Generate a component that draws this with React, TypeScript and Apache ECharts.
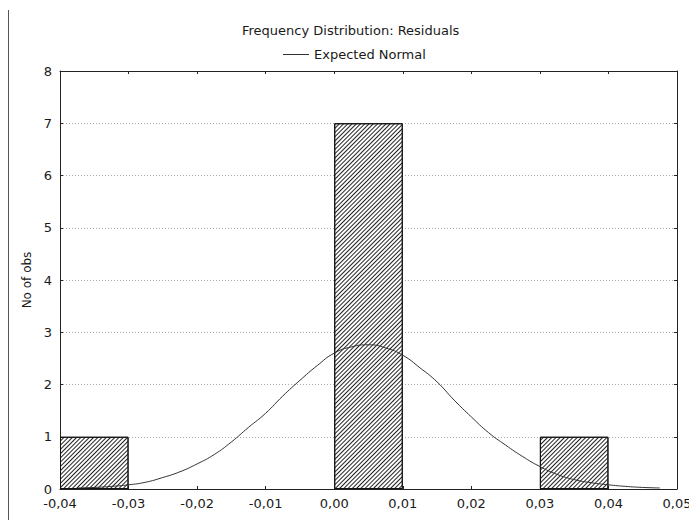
import React, { useEffect, useRef } from "react";
import * as echarts from "echarts";

// Histogram bins (bin centres) and counts
const binCenters = [-0.035, 0.005, 0.035];
const binCounts = [1, 7, 1];

// Expected normal curve
const curveX = [
  -0.0375, -0.035, -0.0325, -0.03, -0.0275, -0.025, -0.0225, -0.02, -0.0175, -0.015,
  -0.0125, -0.01, -0.0075, -0.005, -0.0025, 0, 0.0025, 0.005, 0.0075, 0.01,
  0.0125, 0.015, 0.0175, 0.02, 0.0225, 0.025, 0.0275, 0.03, 0.0325, 0.035,
  0.0375, 0.04, 0.0425, 0.045, 0.0475,
];
const curveY = [
  0.02, 0.03, 0.05, 0.08, 0.13, 0.22, 0.33, 0.48, 0.66, 0.9,
  1.18, 1.45, 1.78, 2.08, 2.36, 2.6, 2.72, 2.76, 2.7, 2.56,
  2.32, 2.05, 1.7, 1.38, 1.08, 0.84, 0.62, 0.43, 0.28, 0.18,
  0.12, 0.08, 0.05, 0.03, 0.02,
];

const xMin = -0.04;
const xMax = 0.05;
const xStep = 0.01;
const yMin = 0;
const yMax = 8;
const yStep = 1;

const W = 689;
const H = 520;
const GRID = { left: 60, right: 12, top: 71, bottom: 31 };

const fmtX = (v: number) => v.toFixed(2).replace(".", ",");
const FONT = "DejaVu Sans, Verdana, sans-serif";
const FS = 13;
const TXT = "#1a1a1a";

export default function App() {
  const ref = useRef<HTMLDivElement>(null);
  useEffect(() => {
    document.body.style.margin = "0";
    document.body.style.overflow = "hidden";
    if (!ref.current) return;
    const chart = echarts.init(ref.current, undefined, { renderer: "svg" });
    const binWidthPx = (W - GRID.left - GRID.right) / ((xMax - xMin) / xStep);
    const axisLine = { show: true, onZero: false, lineStyle: { color: "#222", width: 1 } };
    const tick = { show: true, inside: true, length: 3, lineStyle: { color: "#222" } };
    chart.setOption({
      animation: false,
      backgroundColor: "#fff",
      textStyle: { fontFamily: FONT },
      title: {
        text: "Frequency Distribution: Residuals",
        left: 237,
        top: 19,
        textStyle: { fontSize: FS, fontWeight: "normal", color: TXT, fontFamily: FONT },
      },
      legend: {
        data: ["Expected Normal"],
        top: 43,
        left: 278,
        icon: "rect",
        itemWidth: 26,
        itemHeight: 1,
        textStyle: { fontSize: FS, color: TXT, fontFamily: FONT },
      },
      grid: { ...GRID, containLabel: false, outerBoundsMode: "none" },
      xAxis: [
        {
          type: "value",
          min: xMin,
          max: xMax,
          interval: xStep,
          axisLine,
          axisTick: tick,
          splitLine: { show: false },
          axisLabel: { formatter: fmtX, fontSize: FS, color: TXT, margin: 8, fontFamily: FONT, hideOverlap: false },
        },
        {
          type: "value",
          position: "top",
          min: xMin,
          max: xMax,
          interval: xStep,
          axisLine,
          axisTick: tick,
          splitLine: { show: false },
          axisLabel: { show: false },
        },
      ],
      yAxis: [
        {
          type: "value",
          min: yMin,
          max: yMax,
          interval: yStep,
          name: "No of obs",
          nameLocation: "middle",
          nameGap: 27,
          nameTextStyle: { fontSize: FS - 1, color: TXT, fontFamily: FONT },
          axisLine,
          axisTick: tick,
          splitLine: { show: true, lineStyle: { color: "#aaa", type: [1, 2], width: 1 } },
          axisLabel: { fontSize: FS, color: TXT, margin: 8, fontFamily: FONT },
        },
        {
          type: "value",
          position: "right",
          min: yMin,
          max: yMax,
          interval: yStep,
          axisLine,
          axisTick: tick,
          splitLine: { show: false },
          axisLabel: { show: false },
        },
      ],
      graphic: [
        {
          type: "line",
          shape: { x1: 8.5, y1: 10, x2: 8.5, y2: H },
          style: { stroke: "#555", lineWidth: 1 },
          silent: true,
        },
      ],
      series: [
        {
          name: "Frequency",
          type: "bar",
          xAxisIndex: 0,
          yAxisIndex: 0,
          barWidth: binWidthPx,
          data: binCenters.map((c, i) => [c, binCounts[i]]),
          itemStyle: {
            color: "#fff",
            borderColor: "#111",
            borderWidth: 1,
            decal: {
              symbol: "rect",
              symbolSize: 1,
              dashArrayX: [1, 0],
              dashArrayY: [1, 2],
              rotation: -Math.PI / 4,
              color: "#222",
            },
          },
          z: 2,
        },
        {
          name: "Expected Normal",
          type: "line",
          xAxisIndex: 0,
          yAxisIndex: 0,
          smooth: true,
          symbol: "none",
          data: curveX.map((x, i) => [x, curveY[i]]),
          lineStyle: { color: "#333", width: 1 },
          itemStyle: { color: "#333" },
          z: 3,
        },
      ],
    });
    return () => chart.dispose();
  }, []);
  return <div ref={ref} style={{ width: W, height: H }} />;
}
